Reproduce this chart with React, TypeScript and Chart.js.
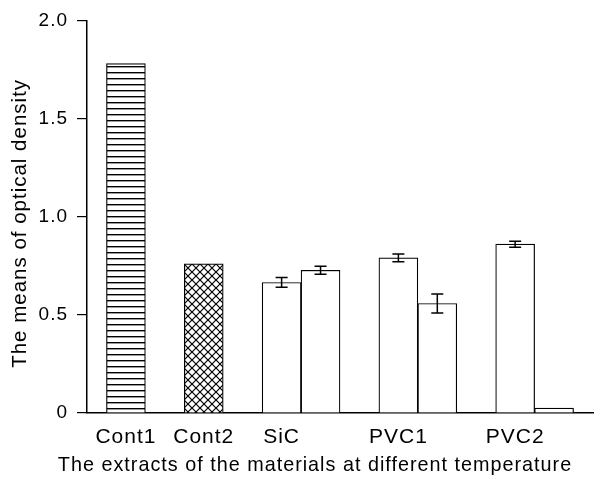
import React, { useEffect, useRef } from 'react';
import { Chart, registerables } from 'chart.js';

Chart.register(...registerables);

// ---- data ----
const categories = ['Cont1', 'Cont2', 'SiC', 'PVC1', 'PVC2'];
const firstBarMeans: number[] = [1.78, 0.76, 0.665, 0.79, 0.86];
const secondBarMeans: (number | null)[] = [null, null, 0.727, 0.558, 0.025];
const firstBarErrors: number[] = [0, 0, 0.025, 0.02, 0.015];
const secondBarErrors: (number | null)[] = [null, null, 0.02, 0.048, 0];
const firstBarFills = ['stripes', 'crosshatch', 'open', 'open', 'open'];
const yTickValues = [0, 0.5, 1.0, 1.5, 2.0];
const yTickLabels = ['0', '0.5', '1.0', '1.5', '2.0'];
const yTitle = 'The means of optical density  ';
const xTitle = 'The extracts of the materials at different temperature';

// ---- slot table (a gap slot before each group, bars, a trailing spacer) ----
const slotLabels: string[] = [];
const slotValues: (number | null)[] = [];
const slotErrors: (number | null)[] = [];
const slotFills: string[] = [];
categories.forEach((c, i) => {
  slotLabels.push(''); slotValues.push(null); slotErrors.push(null); slotFills.push('open');
  slotLabels.push(c); slotValues.push(firstBarMeans[i]); slotErrors.push(firstBarErrors[i]); slotFills.push(firstBarFills[i]);
  if (secondBarMeans[i] !== null) {
    slotLabels.push(''); slotValues.push(secondBarMeans[i]); slotErrors.push(secondBarErrors[i]); slotFills.push('open');
  }
});
slotLabels.push(''); slotValues.push(null); slotErrors.push(null); slotFills.push('open');

function makePattern(kind: string): CanvasPattern | string {
  if (kind === 'open') return '#ffffff';
  const c = document.createElement('canvas');
  const ctx = c.getContext('2d')!;
  if (kind === 'stripes') {
    c.width = 8; c.height = 6;
    ctx.fillStyle = '#fff'; ctx.fillRect(0, 0, 8, 6);
    ctx.fillStyle = '#000'; ctx.fillRect(0, 0, 8, 1.4);
  } else {
    const s = 8;
    c.width = s; c.height = s;
    ctx.fillStyle = '#fff'; ctx.fillRect(0, 0, s, s);
    ctx.strokeStyle = '#000'; ctx.lineWidth = 1.2;
    ctx.beginPath();
    ctx.moveTo(-1, -1); ctx.lineTo(s + 1, s + 1);
    ctx.moveTo(s + 1, -1); ctx.lineTo(-1, s + 1);
    ctx.stroke();
  }
  return ctx.createPattern(c, 'repeat')!;
}

const FONT = '"Liberation Sans", Arial, Helvetica, sans-serif';

const letterSpacing = {
  id: 'letterSpacing',
  beforeDraw(chart: any) {
    (chart.ctx as any).letterSpacing = '1px';
  },
};

// x-axis title, centred a little left of the plot centre as in the reference
const xAxisTitle = {
  id: 'xAxisTitle',
  afterDraw(chart: any) {
    const ctx = chart.ctx;
    const { left, right } = chart.chartArea;
    ctx.save();
    (ctx as any).letterSpacing = '1px';
    ctx.font = `19.8px ${FONT}`;
    ctx.fillStyle = '#000';
    ctx.textAlign = 'center';
    ctx.textBaseline = 'alphabetic';
    ctx.fillText(xTitle, (left + right) / 2 - 25, chart.height - 8);
    ctx.restore();
  },
};

const errorBars = {
  id: 'errorBars',
  afterDatasetsDraw(chart: any) {
    const ctx = chart.ctx;
    const meta = chart.getDatasetMeta(0);
    const y = chart.scales.y;
    meta.data.forEach((bar: any, i: number) => {
      const v = slotValues[i];
      const e = slotErrors[i];
      if (v == null || !e) return;
      const x = bar.x;
      const yt = y.getPixelForValue(v + e);
      const yb = y.getPixelForValue(v - e);
      ctx.save();
      ctx.strokeStyle = '#000';
      ctx.lineWidth = 1.5;
      ctx.beginPath();
      ctx.moveTo(x, yt); ctx.lineTo(x, yb);
      ctx.moveTo(x - 6, yt); ctx.lineTo(x + 6, yt);
      ctx.moveTo(x - 6, yb); ctx.lineTo(x + 6, yb);
      ctx.stroke();
      ctx.restore();
    });
  },
};

export default function App() {
  const ref = useRef<HTMLCanvasElement>(null);
  useEffect(() => {
    if (!ref.current) return;
    const chart = new Chart(ref.current, {
      type: 'bar',
      data: {
        labels: slotLabels,
        datasets: [
          {
            data: slotValues as any,
            backgroundColor: slotFills.map(makePattern) as any,
            borderColor: '#000',
            borderWidth: 1.2,
            barPercentage: 1,
            categoryPercentage: 1,
          },
        ],
      },
      options: {
        animation: false,
        responsive: false,
        maintainAspectRatio: false,
        layout: { padding: { top: 17, right: 5, left: 0, bottom: 0 } },
        plugins: { legend: { display: false }, tooltip: { enabled: false } },
        scales: {
          x: {
            type: 'category',
            offset: false,
            grid: { display: true, drawOnChartArea: false, drawTicks: false, offset: false },
            border: { display: true, color: '#000', width: 1.5 },
            ticks: {
              autoSkip: false,
              maxRotation: 0,
              padding: 12,
              color: '#000',
              font: { family: FONT, size: 21 },
            },
            title: { display: false },
            afterFit(scale: any) { scale.height = 66; },
          },
          y: {
            min: 0,
            max: 2,
            afterBuildTicks(scale: any) {
              scale.ticks = yTickValues.map((v) => ({ value: v }));
            },
            grid: { display: true, drawOnChartArea: false, drawTicks: true, tickLength: 10, color: '#000', lineWidth: 1.2 },
            border: { display: true, color: '#000', width: 1.5 },
            ticks: {
              padding: 9,
              color: '#000',
              font: { family: FONT, size: 19 },
              callback: (v: any) => {
                const k = yTickValues.indexOf(Number(v));
                return k >= 0 ? yTickLabels[k] : '';
              },
            },
            title: {
              display: true,
              text: yTitle,
              color: '#000',
              font: { family: FONT, size: 20.5 },
              padding: { top: 8, bottom: 0 },
            },
            afterFit(scale: any) { scale.width = 87; },
          },
        },
      },
      plugins: [letterSpacing, errorBars, xAxisTitle],
    });
    return () => chart.destroy();
  }, []);
  return (
    <div style={{ position: 'fixed', left: 0, top: 0, width: 605, height: 479, background: '#fff' }}>
      <canvas ref={ref} width={605} height={479} style={{ display: 'block' }} />
    </div>
  );
}
